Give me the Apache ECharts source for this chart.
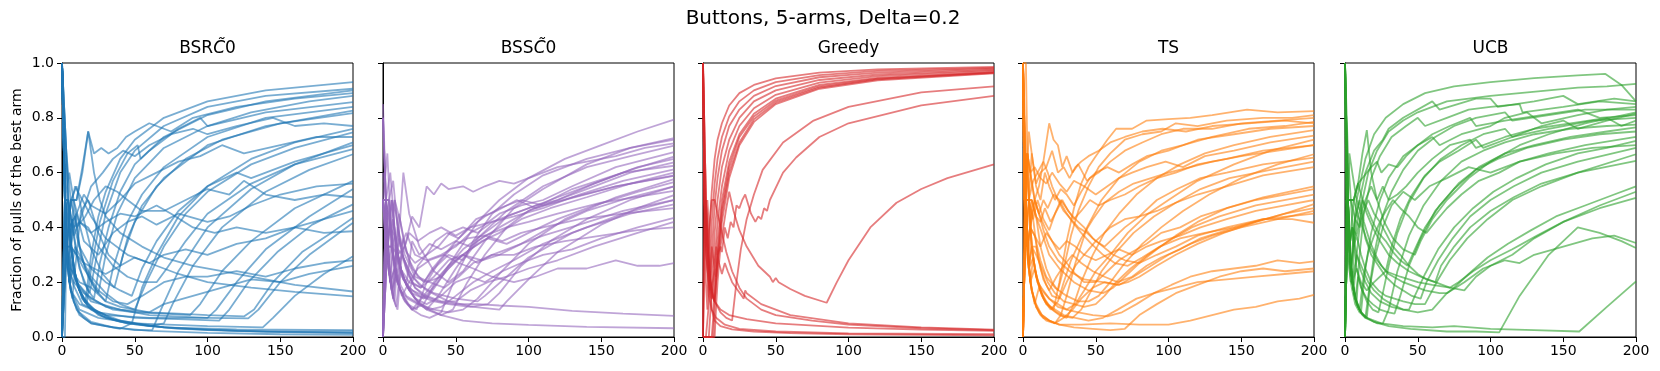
<!DOCTYPE html>
<html>
<head>
<meta charset="utf-8">
<script src="https://cdn.jsdelivr.net/npm/echarts@6/dist/echarts.min.js"></script>
<style>
	html, body { margin: 0; padding: 0; background: #fff; }
	#main { width: 1660px; height: 371px; }
</style>
</head>
<body>
<div id="main"></div>
<script>
// values, one [step, fraction] list per run
var xTicks = [0, 50, 100, 150, 200];
var yTicks = [0, 0.2, 0.4, 0.6, 0.8, 1.0];
var panelTitles = ['BSR{i|C\u0303}0', 'BSS{i|C\u0303}0', 'Greedy', 'TS', 'UCB'];
var panelColors = ['#1f77b4', '#9467bd', '#d62728', '#ff7f0e', '#2ca02c'];

var bsrLines = [
	[[0,1],[2,0.5],[3,0.33],[5,0.4],[8,0.25],[12,0.17],[16,0.125],[20,0.3],[25,0.44],[30,0.53],[40,0.65],[50,0.72],[70,0.8],[100,0.86],[140,0.9],[200,0.93]],
	[[0,0],[2,0.5],[4,0.25],[7,0.43],[10,0.3],[15,0.2],[19,0.16],[24,0.3],[30,0.45],[40,0.6],[50,0.68],[70,0.77],[100,0.84],[140,0.88],[200,0.906]],
	[[0,0],[3,0.33],[6,0.5],[10,0.5],[14,0.6],[18,0.75],[22,0.67],[27,0.69],[32,0.67],[38,0.69],[44,0.73],[50,0.75],[60,0.78],[75,0.75],[90,0.8],[120,0.84],[160,0.87],[200,0.89]],
	[[0,1],[2,0.5],[4,0.5],[8,0.37],[12,0.25],[18,0.17],[22,0.14],[26,0.27],[32,0.4],[40,0.53],[50,0.63],[70,0.73],[100,0.81],[140,0.86],[200,0.9]],
	[[0,1],[3,0.67],[6,0.33],[10,0.2],[14,0.14],[17,0.12],[20,0.25],[26,0.42],[35,0.57],[45,0.67],[52,0.7],[54,0.65],[60,0.68],[80,0.76],[95,0.8],[100,0.77],[130,0.82],[170,0.86],[200,0.88]],
	[[0,0],[2,0.5],[5,0.4],[9,0.44],[13,0.3],[18,0.22],[25,0.16],[30,0.3],[38,0.45],[50,0.58],[70,0.69],[100,0.77],[140,0.82],[200,0.857]],
	[[0,1],[3,0.33],[5,0.2],[8,0.5],[12,0.33],[16,0.25],[22,0.18],[30,0.13],[35,0.25],[45,0.42],[55,0.52],[70,0.62],[100,0.73],[140,0.8],[200,0.84]],
	[[0,1],[2,0.5],[4,0.25],[7,0.14],[10,0.3],[13,0.46],[18,0.5],[25,0.38],[32,0.3],[40,0.26],[45,0.36],[55,0.48],[70,0.58],[100,0.7],[140,0.77],[200,0.826]],
	[[0,0],[3,0.3],[6,0.5],[10,0.55],[14,0.45],[20,0.32],[28,0.23],[36,0.18],[42,0.3],[50,0.42],[65,0.55],[85,0.65],[110,0.72],[150,0.78],[200,0.817]],
	[[0,1],[4,0.5],[8,0.4],[12,0.42],[20,0.55],[28,0.6],[35,0.65],[42,0.68],[50,0.66],[60,0.7],[75,0.74],[90,0.76],[100,0.74],[120,0.77],[145,0.8],[160,0.77],[180,0.78],[200,0.77]],
	[[0,1],[3,0.33],[6,0.17],[10,0.1],[15,0.07],[20,0.05],[40,0.03],[48,0.05],[55,0.18],[65,0.3],[80,0.44],[100,0.55],[130,0.65],[160,0.71],[200,0.76]],
	[[0,1],[2,0.5],[5,0.2],[9,0.33],[14,0.28],[20,0.22],[30,0.16],[40,0.12],[50,0.1],[58,0.2],[70,0.33],[85,0.45],[100,0.53],[130,0.63],[160,0.69],[200,0.747]],
	[[0,0],[3,0.33],[6,0.33],[10,0.45],[15,0.52],[20,0.48],[30,0.45],[40,0.5],[50,0.56],[65,0.6],[80,0.64],[95,0.66],[110,0.7],[125,0.67],[150,0.7],[175,0.73],[200,0.73]],
	[[0,1],[3,0.33],[5,0.2],[8,0.13],[12,0.08],[20,0.05],[30,0.04],[50,0.025],[62,0.025],[68,0.1],[80,0.24],[100,0.4],[130,0.54],[160,0.63],[200,0.71]],
	[[0,1],[2,0.5],[4,0.25],[7,0.43],[12,0.33],[20,0.25],[30,0.2],[40,0.17],[48,0.15],[55,0.25],[65,0.35],[80,0.46],[100,0.55],[120,0.6],[130,0.58],[160,0.64],[200,0.7]],
	[[0,0],[2,0.5],[4,0.5],[8,0.37],[12,0.42],[18,0.4],[25,0.33],[35,0.26],[45,0.22],[55,0.2],[65,0.2],[72,0.25],[85,0.35],[100,0.45],[130,0.56],[160,0.63],[200,0.686]],
	[[0,1],[3,0.33],[5,0.4],[9,0.22],[14,0.14],[20,0.1],[30,0.07],[45,0.05],[60,0.04],[70,0.05],[76,0.12],[90,0.26],[110,0.4],[140,0.53],[170,0.61],[200,0.667]],
	[[0,1],[3,0.33],[6,0.25],[10,0.2],[20,0.14],[35,0.1],[50,0.09],[70,0.085],[88,0.08],[95,0.12],[110,0.24],[130,0.35],[160,0.47],[200,0.57]],
	[[0,1],[2,0.5],[5,0.4],[10,0.45],[15,0.35],[25,0.3],[35,0.38],[45,0.42],[55,0.44],[65,0.41],[80,0.45],[100,0.42],[115,0.44],[130,0.48],[150,0.52],[175,0.55],[200,0.56]],
	[[0,0],[2,0.5],[4,0.25],[8,0.2],[15,0.16],[30,0.11],[60,0.08],[100,0.07],[106,0.1],[120,0.2],[140,0.32],[170,0.44],[200,0.54]],
	[[0,1],[3,0.67],[6,0.5],[10,0.4],[16,0.44],[22,0.5],[30,0.55],[38,0.53],[45,0.5],[55,0.46],[70,0.46],[85,0.5],[100,0.54],[115,0.52],[125,0.57],[140,0.52],[160,0.5],[180,0.52],[200,0.51]],
	[[0,1],[3,0.33],[6,0.17],[12,0.12],[25,0.09],[50,0.07],[80,0.065],[108,0.06],[115,0.1],[128,0.2],[148,0.31],[172,0.41],[200,0.484]],
	[[0,0],[3,0.33],[6,0.33],[10,0.3],[15,0.27],[22,0.25],[30,0.23],[40,0.26],[50,0.29],[60,0.27],[70,0.3],[85,0.32],[100,0.3],[120,0.34],[140,0.36],[160,0.4],[180,0.43],[200,0.46]],
	[[0,1],[2,0.5],[5,0.3],[10,0.2],[20,0.13],[40,0.1],[60,0.09],[80,0.085],[100,0.08],[125,0.075],[132,0.1],[145,0.2],[165,0.31],[185,0.38],[200,0.435]],
	[[0,1],[3,0.33],[7,0.2],[14,0.12],[30,0.08],[60,0.07],[100,0.07],[128,0.068],[135,0.1],[150,0.2],[170,0.3],[200,0.417]],
	[[0,0],[2,0.5],[5,0.6],[8,0.5],[12,0.42],[20,0.38],[30,0.42],[40,0.45],[50,0.44],[65,0.48],[75,0.45],[90,0.4],[105,0.38],[120,0.4],[140,0.38],[160,0.4],[180,0.38],[200,0.386]],
	[[0,1],[3,0.33],[6,0.17],[12,0.1],[25,0.07],[50,0.05],[100,0.04],[138,0.035],[145,0.07],[160,0.15],[180,0.23],[200,0.295]],
	[[0,1],[2,0.5],[6,0.33],[10,0.3],[15,0.25],[25,0.17],[35,0.13],[45,0.12],[55,0.15],[70,0.2],[85,0.22],[100,0.22],[120,0.24],[140,0.22],[160,0.25],[180,0.27],[200,0.28]],
	[[0,0],[3,0.33],[6,0.25],[12,0.2],[20,0.18],[30,0.13],[40,0.11],[50,0.1],[60,0.09],[70,0.12],[90,0.15],[110,0.18],[130,0.21],[150,0.2],[170,0.23],[200,0.26]],
	[[0,1],[3,0.33],[6,0.5],[10,0.5],[14,0.62],[18,0.75],[22,0.6],[26,0.5],[30,0.44],[40,0.38],[55,0.33],[70,0.29],[90,0.26],[110,0.24],[130,0.22],[160,0.19],[200,0.166]],
	[[0,1],[2,0.5],[5,0.45],[9,0.55],[14,0.5],[20,0.44],[30,0.36],[45,0.3],[60,0.27],[80,0.23],[100,0.2],[130,0.18],[160,0.165],[200,0.148]],
	[[0,1],[2,0.5],[3,0.33],[5,0.2],[8,0.13],[12,0.09],[20,0.055],[35,0.035],[60,0.022],[100,0.015],[150,0.01],[200,0.008]],
	[[0,0],[2,0.5],[4,0.5],[6,0.33],[10,0.2],[15,0.14],[22,0.1],[35,0.065],[60,0.04],[100,0.025],[150,0.018],[200,0.014]],
	[[0,1],[3,0.67],[5,0.4],[8,0.25],[12,0.17],[18,0.12],[25,0.09],[40,0.06],[70,0.035],[120,0.022],[200,0.015]],
	[[0,0],[2,0],[3,0.33],[5,0.2],[8,0.25],[12,0.17],[18,0.11],[28,0.075],[45,0.05],[80,0.03],[140,0.02],[200,0.02]],
	[[0,1],[2,0.5],[4,0.5],[7,0.29],[11,0.18],[16,0.13],[25,0.08],[40,0.055],[70,0.035],[120,0.028],[200,0.025]]
];

var bssLines = [
	[[0,0.5],[2,0.33],[5,0.2],[8,0.5],[12,0.33],[16,0.25],[22,0.18],[30,0.14],[38,0.2],[50,0.3],[65,0.42],[80,0.5],[100,0.58],[125,0.65],[150,0.7],[175,0.75],[200,0.793]],
	[[0,0],[2,0.5],[4,0.25],[7,0.43],[10,0.3],[14,0.6],[18,0.45],[25,0.33],[35,0.24],[45,0.2],[55,0.24],[70,0.35],[90,0.47],[110,0.54],[140,0.63],[170,0.69],[200,0.726]],
	[[0,0.85],[3,0.33],[6,0.33],[10,0.3],[15,0.33],[20,0.44],[25,0.4],[30,0.55],[35,0.52],[40,0.56],[45,0.54],[55,0.55],[62,0.53],[70,0.55],[80,0.57],[90,0.56],[100,0.58],[120,0.62],[140,0.64],[160,0.66],[180,0.69],[200,0.707]],
	[[0,0.5],[3,0.33],[6,0.5],[9,0.33],[13,0.23],[18,0.17],[25,0.12],[30,0.1],[38,0.15],[50,0.25],[65,0.36],[85,0.46],[110,0.55],[140,0.62],[170,0.66],[200,0.698]],
	[[0,0],[2,0.5],[5,0.4],[8,0.25],[11,0.45],[15,0.33],[20,0.25],[28,0.2],[35,0.25],[45,0.3],[55,0.28],[65,0.35],[80,0.4],[100,0.46],[120,0.5],[145,0.56],[170,0.61],[200,0.658]],
	[[0,0.5],[2,0.33],[4,0.5],[7,0.29],[10,0.2],[14,0.14],[20,0.1],[28,0.15],[35,0.2],[45,0.26],[55,0.32],[70,0.38],[85,0.44],[100,0.47],[120,0.51],[150,0.57],[175,0.62],[200,0.65]],
	[[0,0],[3,0.33],[6,0.17],[9,0.33],[13,0.3],[18,0.38],[24,0.35],[32,0.38],[40,0.4],[50,0.37],[60,0.4],[75,0.42],[90,0.45],[105,0.48],[120,0.5],[140,0.54],[170,0.6],[200,0.637]],
	[[0,0.6],[2,0.5],[5,0.2],[8,0.38],[12,0.25],[17,0.18],[24,0.13],[32,0.1],[40,0.08],[48,0.1],[58,0.2],[70,0.3],[85,0.4],[100,0.46],[130,0.54],[165,0.6],[200,0.625]],
	[[0,0.5],[2,0.5],[5,0.4],[8,0.5],[12,0.42],[16,0.31],[22,0.27],[30,0.3],[38,0.33],[46,0.38],[55,0.4],[65,0.38],[75,0.42],[90,0.44],[110,0.47],[135,0.52],[165,0.57],[200,0.612]],
	[[0,0],[3,0.33],[5,0.2],[8,0.13],[10,0.3],[14,0.21],[20,0.16],[28,0.14],[36,0.19],[45,0.25],[55,0.3],[68,0.35],[80,0.38],[95,0.43],[115,0.47],[140,0.51],[170,0.56],[200,0.6]],
	[[0,0.8],[2,0.5],[4,0.25],[7,0.14],[10,0.4],[14,0.29],[20,0.2],[26,0.18],[34,0.25],[42,0.3],[52,0.36],[64,0.43],[78,0.46],[92,0.5],[105,0.47],[125,0.5],[160,0.55],[200,0.588]],
	[[0,0.5],[3,0.33],[6,0.17],[9,0.25],[12,0.19],[16,0.15],[25,0.12],[35,0.1],[45,0.09],[55,0.1],[65,0.14],[80,0.23],[100,0.34],[125,0.43],[160,0.51],[200,0.576]],
	[[0,0],[2,0.5],[4,0.5],[7,0.57],[10,0.4],[15,0.3],[22,0.22],[30,0.2],[40,0.22],[50,0.28],[60,0.32],[72,0.36],[85,0.34],[100,0.38],[120,0.43],[145,0.48],[175,0.53],[200,0.565]],
	[[0,0.5],[2,0.33],[5,0.4],[9,0.3],[13,0.22],[18,0.18],[25,0.15],[35,0.13],[45,0.12],[60,0.11],[72,0.12],[80,0.16],[95,0.26],[115,0.35],[140,0.43],[170,0.5],[200,0.55]],
	[[0,0],[3,0.33],[6,0.5],[9,0.33],[12,0.25],[16,0.19],[20,0.35],[25,0.3],[32,0.34],[40,0.32],[50,0.35],[60,0.33],[70,0.37],[85,0.4],[100,0.42],[120,0.45],[150,0.49],[200,0.533]],
	[[0,0.5],[2,0.5],[5,0.2],[8,0.25],[11,0.36],[14,0.29],[20,0.22],[30,0.17],[45,0.13],[62,0.11],[80,0.1],[85,0.13],[100,0.21],[120,0.31],[150,0.41],[175,0.47],[200,0.518]],
	[[0,0.8],[3,0.33],[6,0.33],[10,0.2],[14,0.36],[18,0.28],[24,0.22],[32,0.2],[42,0.18],[52,0.22],[62,0.27],[75,0.3],[90,0.33],[110,0.37],[135,0.41],[165,0.46],[200,0.5]],
	[[0,0],[2,0.5],[4,0.25],[6,0.17],[9,0.22],[12,0.17],[17,0.14],[24,0.12],[32,0.1],[40,0.11],[50,0.15],[62,0.2],[75,0.24],[90,0.28],[110,0.34],[140,0.4],[170,0.45],[200,0.484]],
	[[0,0.5],[2,0.33],[5,0.2],[8,0.25],[12,0.17],[17,0.12],[23,0.1],[30,0.2],[38,0.27],[48,0.33],[58,0.36],[70,0.37],[82,0.35],[95,0.38],[110,0.4],[135,0.43],[165,0.45],[200,0.47]],
	[[0,0],[3,0.33],[7,0.43],[11,0.27],[16,0.19],[22,0.14],[30,0.12],[40,0.15],[50,0.2],[60,0.22],[70,0.2],[82,0.24],[95,0.27],[110,0.3],[130,0.32],[150,0.36],[175,0.4],[200,0.435]],
	[[0,0.5],[2,0.5],[4,0.25],[7,0.14],[10,0.1],[13,0.3],[17,0.23],[22,0.18],[30,0.15],[40,0.13],[50,0.13],[60,0.17],[72,0.2],[85,0.22],[100,0.25],[120,0.28],[145,0.33],[175,0.38],[200,0.42]],
	[[0,0],[2,0.33],[5,0.4],[8,0.37],[12,0.25],[18,0.2],[26,0.18],[35,0.22],[45,0.28],[55,0.3],[65,0.27],[75,0.3],[90,0.3],[105,0.33],[125,0.35],[150,0.37],[175,0.39],[200,0.4]],
	[[0,0.5],[3,0.33],[6,0.33],[9,0.22],[13,0.15],[18,0.2],[24,0.25],[32,0.28],[42,0.3],[52,0.27],[62,0.25],[75,0.22],[90,0.2],[105,0.22],[120,0.25],[140,0.25],[160,0.28],[175,0.26],[190,0.26],[200,0.27]],
	[[0,0],[2,0.5],[4,0.25],[7,0.14],[10,0.3],[14,0.21],[20,0.17],[28,0.15],[38,0.13],[50,0.12],[65,0.12],[80,0.115],[100,0.11],[130,0.095],[165,0.085],[200,0.077]],
	[[0,0.5],[2,0.5],[4,0.25],[6,0.17],[9,0.11],[12,0.25],[16,0.19],[22,0.14],[30,0.1],[40,0.08],[55,0.06],[75,0.05],[100,0.044],[140,0.037],[200,0.032]],
	[[0,0.8],[2,0.5],[4,0.5],[7,0.29],[10,0.2],[14,0.15],[20,0.1],[26,0.08],[32,0.07],[40,0.09],[50,0.22],[62,0.35],[75,0.45],[90,0.52],[110,0.59],[140,0.65],[170,0.69],[200,0.72]],
	[[0,0],[2,0.5],[5,0.6],[9,0.33],[13,0.23],[18,0.17],[24,0.26],[30,0.3],[36,0.35],[44,0.38],[52,0.36],[60,0.4],[70,0.44],[80,0.47],[95,0.5],[110,0.48],[130,0.51],[160,0.55],[200,0.59]],
	[[0,0.5],[3,0.67],[6,0.33],[10,0.2],[15,0.13],[20,0.1],[28,0.12],[36,0.2],[45,0.26],[55,0.3],[68,0.28],[80,0.3],[95,0.34],[115,0.4],[140,0.46],[170,0.51],[200,0.55]],
	[[0,0],[2,0.5],[4,0.5],[6,0.33],[9,0.22],[13,0.3],[18,0.24],[25,0.19],[35,0.16],[50,0.14],[65,0.13],[70,0.15],[85,0.22],[100,0.29],[130,0.38],[165,0.45],[200,0.5]],
	[[0,0.5],[3,0.33],[6,0.5],[9,0.45],[12,0.33],[16,0.38],[22,0.3],[30,0.28],[40,0.3],[50,0.33],[60,0.38],[70,0.41],[80,0.45],[95,0.48],[110,0.5],[130,0.55],[160,0.62],[200,0.675]]
];

var greedyLines = [
	[[0,1],[1,0.5],[2,0.2],[3,0.1],[4,0.3],[5,0.44],[6,0.53],[8,0.65],[10,0.72],[13,0.78],[18,0.845],[25,0.89],[35,0.92],[50,0.944],[80,0.965],[120,0.977],[200,0.986]],
	[[0,0],[1,0],[2,0],[3,0],[4,0.12],[5,0.3],[6,0.42],[8,0.56],[10,0.65],[13,0.73],[18,0.805],[25,0.86],[35,0.9],[50,0.93],[80,0.956],[120,0.971],[200,0.982]],
	[[0,1],[1,0.5],[2,0.33],[3,0.25],[4,0.2],[5,0.17],[6,0.3],[8,0.48],[10,0.58],[13,0.68],[18,0.77],[25,0.83],[35,0.88],[50,0.916],[80,0.948],[120,0.965],[200,0.979]],
	[[0,0],[2,0],[4,0],[5,0],[6,0.17],[8,0.38],[10,0.5],[13,0.62],[18,0.72],[25,0.8],[35,0.86],[50,0.9],[80,0.938],[120,0.958],[200,0.975]],
	[[0,1],[1,0.5],[2,0.33],[3,0.25],[5,0.15],[6,0.14],[7,0.17],[8,0.28],[10,0.42],[13,0.55],[18,0.68],[25,0.77],[35,0.835],[50,0.884],[80,0.928],[120,0.952],[200,0.971]],
	[[0,0],[3,0],[6,0],[7,0.07],[8,0.19],[10,0.35],[13,0.5],[18,0.64],[25,0.74],[35,0.815],[50,0.87],[80,0.92],[120,0.946],[200,0.967]],
	[[0,1],[1,0.5],[3,0.33],[5,0.2],[7,0.14],[8,0.13],[10,0.28],[13,0.45],[18,0.6],[25,0.71],[35,0.795],[50,0.856],[80,0.91],[120,0.94],[200,0.964]],
	[[0,0],[2,0],[5,0],[7,0],[8,0.12],[10,0.3],[13,0.47],[18,0.62],[25,0.73],[35,0.805],[50,0.863],[80,0.915],[120,0.943],[200,0.966]],
	[[0,1],[2,0.5],[4,0.25],[6,0.17],[8,0.13],[9,0.2],[10,0.26],[13,0.42],[18,0.58],[25,0.7],[35,0.785],[50,0.85],[80,0.906],[120,0.937],[200,0.962]],
	[[0,0],[1,0.5],[3,0.33],[5,0.2],[8,0.13],[12,0.09],[16,0.07],[20,0.06],[23,0.2],[26,0.32],[30,0.43],[35,0.52],[41,0.61],[55,0.71],[76,0.79],[100,0.84],[150,0.893],[200,0.915]],
	[[0,1],[2,0.5],[4,0.25],[5,0.2],[6,0.33],[8,0.25],[9,0.33],[10,0.3],[12,0.33],[13,0.31],[15,0.4],[17,0.36],[19,0.42],[21,0.4],[23,0.48],[25,0.47],[27,0.5],[29,0.52],[33,0.45],[36,0.42],[38,0.44],[40,0.43],[42,0.47],[44,0.46],[46,0.5],[55,0.6],[64,0.655],[80,0.73],[100,0.78],[150,0.845],[200,0.88]],
	[[0,0],[8,0],[9,0.11],[10,0.2],[12,0.33],[14,0.4],[16,0.47],[18,0.53],[21,0.46],[25,0.39],[30,0.33],[38,0.26],[46,0.22],[48,0.2],[50,0.215],[52,0.2],[60,0.175],[70,0.15],[85,0.125],[92,0.2],[100,0.28],[115,0.4],[133,0.49],[150,0.54],[168,0.58],[200,0.63]],
	[[0,1],[2,0.5],[4,0.25],[6,0.17],[8,0.25],[9,0.22],[10,0.3],[11,0.27],[13,0.23],[15,0.27],[17,0.24],[20,0.2],[24,0.17],[28,0.14],[29,0.17],[30,0.16],[40,0.12],[60,0.08],[100,0.05],[150,0.035],[200,0.027]],
	[[0,0],[1,0.5],[2,0.33],[3,0.5],[4,0.4],[5,0.17],[8,0.13],[12,0.1],[18,0.08],[30,0.065],[50,0.05],[100,0.034],[150,0.027],[200,0.022]],
	[[0,1],[1,0.5],[3,0.33],[6,0.5],[8,0.5],[10,0.45],[13,0.38],[16,0.31],[20,0.24],[25,0.18],[30,0.14],[40,0.1],[50,0.08],[75,0.06],[100,0.045],[150,0.032],[200,0.025]],
	[[0,0],[1,0],[2,0.5],[3,0.33],[4,0.25],[5,0.2],[6,0.1],[8,0.06],[12,0.04],[20,0.028],[35,0.02],[60,0.014],[100,0.01],[200,0.006]],
	[[0,1],[1,0.5],[2,0.33],[3,0.25],[4,0.15],[6,0.1],[9,0.07],[15,0.045],[25,0.03],[50,0.02],[100,0.013],[200,0.01]]
];

var tsLines = [
	[[0,1],[1,0.5],[2,0.67],[4,0.5],[6,0.33],[9,0.22],[13,0.15],[17,0.12],[21,0.1],[25,0.2],[30,0.35],[35,0.47],[40,0.56],[45,0.62],[50,0.66],[58,0.72],[64,0.76],[75,0.76],[85,0.79],[100,0.795],[115,0.8],[130,0.81],[154,0.83],[175,0.82],[200,0.824]],
	[[0,1],[2,0.5],[4,0.25],[6,0.5],[9,0.44],[12,0.33],[16,0.25],[20,0.2],[24,0.17],[28,0.25],[33,0.37],[38,0.46],[45,0.55],[52,0.62],[60,0.67],[70,0.72],[82,0.74],[95,0.75],[105,0.78],[120,0.77],[140,0.79],[165,0.8],[185,0.8],[200,0.81]],
	[[0,0],[1,0],[2,0.5],[4,0.75],[6,0.67],[9,0.55],[12,0.5],[15,0.6],[18,0.55],[22,0.5],[26,0.54],[30,0.52],[35,0.48],[40,0.53],[46,0.58],[52,0.6],[60,0.64],[70,0.68],[82,0.71],[95,0.74],[110,0.76],[130,0.76],[150,0.78],[175,0.79],[200,0.8]],
	[[0,1],[1,1],[2,0.5],[3,0.33],[5,0.2],[8,0.13],[11,0.09],[14,0.07],[18,0.06],[22,0.05],[26,0.08],[30,0.15],[36,0.27],[44,0.4],[54,0.5],[66,0.58],[80,0.64],[95,0.68],[110,0.7],[130,0.73],[155,0.76],[180,0.77],[200,0.785]],
	[[0,0],[2,0.5],[4,0.5],[7,0.57],[10,0.6],[14,0.64],[18,0.78],[21,0.72],[24,0.7],[27,0.62],[30,0.66],[34,0.6],[38,0.63],[44,0.57],[50,0.6],[58,0.62],[66,0.6],[75,0.63],[85,0.66],[100,0.68],[120,0.72],[145,0.74],[170,0.76],[200,0.77]],
	[[0,1],[1,0.5],[3,0.67],[5,0.4],[8,0.25],[12,0.17],[16,0.13],[20,0.1],[25,0.08],[30,0.07],[35,0.12],[40,0.2],[48,0.3],[56,0.38],[66,0.45],[78,0.52],[92,0.58],[108,0.63],[125,0.67],[145,0.7],[170,0.73],[200,0.755]],
	[[0,1],[2,1],[3,0.67],[5,0.6],[8,0.62],[12,0.58],[16,0.56],[20,0.6],[25,0.56],[30,0.53],[35,0.57],[42,0.55],[50,0.52],[58,0.55],[66,0.58],[75,0.6],[85,0.62],[98,0.64],[110,0.62],[125,0.66],[145,0.68],[170,0.71],[200,0.735]],
	[[0,0],[1,0],[2,0.5],[4,0.25],[6,0.33],[9,0.22],[13,0.17],[18,0.14],[24,0.12],[30,0.1],[36,0.12],[42,0.17],[50,0.24],[60,0.3],[72,0.38],[86,0.45],[100,0.5],[120,0.57],[145,0.63],[170,0.68],[200,0.72]],
	[[0,1],[1,0.5],[2,0.33],[4,0.5],[7,0.43],[10,0.5],[14,0.43],[18,0.39],[22,0.45],[26,0.5],[30,0.47],[35,0.43],[40,0.46],[46,0.5],[52,0.48],[60,0.5],[70,0.52],[80,0.55],[92,0.58],[105,0.6],[120,0.63],[140,0.65],[165,0.68],[200,0.7]],
	[[0,0],[2,0.5],[3,0.33],[5,0.4],[8,0.37],[12,0.28],[16,0.22],[22,0.18],[30,0.15],[38,0.13],[45,0.13],[52,0.15],[60,0.2],[70,0.27],[82,0.34],[95,0.4],[110,0.46],[128,0.52],[150,0.58],[175,0.63],[200,0.667]],
	[[0,1],[1,0.5],[3,0.33],[5,0.4],[8,0.5],[11,0.55],[14,0.64],[17,0.6],[20,0.55],[24,0.5],[28,0.46],[33,0.43],[38,0.4],[44,0.38],[50,0.35],[56,0.33],[62,0.36],[70,0.4],[80,0.44],[92,0.5],[106,0.54],[122,0.58],[140,0.6],[165,0.63],[200,0.655]],
	[[0,0],[1,0.5],[3,0.33],[5,0.2],[7,0.29],[10,0.2],[14,0.14],[18,0.11],[23,0.09],[28,0.075],[34,0.07],[40,0.1],[46,0.16],[54,0.24],[64,0.31],[76,0.38],[90,0.44],[105,0.49],[122,0.54],[142,0.58],[170,0.61],[200,0.64]],
	[[0,1],[2,0.5],[4,0.5],[6,0.33],[9,0.33],[12,0.25],[16,0.19],[20,0.15],[25,0.14],[30,0.2],[36,0.26],[42,0.3],[50,0.35],[60,0.4],[70,0.43],[80,0.44],[92,0.46],[105,0.49],[120,0.52],[140,0.55],[165,0.59],[200,0.62]],
	[[0,0],[1,0],[2,0.5],[4,0.5],[6,0.5],[9,0.44],[13,0.38],[18,0.3],[25,0.25],[35,0.2],[45,0.17],[55,0.16],[62,0.18],[70,0.22],[80,0.27],[92,0.32],[105,0.37],[120,0.42],[140,0.47],[165,0.51],[200,0.55]],
	[[0,1],[1,0.5],[3,0.67],[5,0.6],[8,0.5],[11,0.45],[15,0.4],[20,0.35],[25,0.3],[30,0.27],[36,0.23],[42,0.2],[50,0.2],[58,0.24],[66,0.28],[75,0.31],[85,0.34],[95,0.38],[108,0.4],[122,0.44],[140,0.47],[160,0.5],[180,0.52],[200,0.54]],
	[[0,1],[2,0.5],[4,0.25],[6,0.33],[9,0.3],[13,0.25],[17,0.2],[22,0.16],[28,0.13],[35,0.12],[42,0.11],[50,0.12],[56,0.15],[64,0.2],[74,0.25],[86,0.3],[100,0.35],[116,0.4],[135,0.44],[160,0.48],[200,0.52]],
	[[0,0],[2,0.5],[3,0.67],[5,0.4],[8,0.37],[12,0.33],[16,0.38],[20,0.35],[25,0.32],[30,0.35],[36,0.33],[42,0.3],[50,0.28],[58,0.3],[66,0.32],[75,0.3],[85,0.33],[95,0.35],[108,0.37],[122,0.4],[140,0.43],[160,0.46],[180,0.48],[200,0.5]],
	[[0,1],[1,0.5],[3,0.67],[5,0.6],[8,0.5],[11,0.45],[14,0.39],[18,0.33],[24,0.28],[32,0.24],[42,0.21],[55,0.2],[65,0.19],[72,0.2],[80,0.22],[92,0.26],[105,0.3],[120,0.34],[138,0.38],[160,0.42],[180,0.45],[200,0.485]],
	[[0,0],[1,0.5],[2,0.33],[4,0.5],[7,0.43],[10,0.3],[14,0.21],[18,0.17],[23,0.22],[28,0.26],[34,0.3],[40,0.27],[48,0.24],[56,0.22],[65,0.2],[75,0.22],[85,0.26],[95,0.29],[108,0.32],[122,0.36],[140,0.39],[160,0.42],[180,0.45],[200,0.47]],
	[[0,1],[2,0.5],[3,0.33],[6,0.17],[9,0.11],[12,0.08],[16,0.06],[22,0.05],[28,0.07],[34,0.1],[40,0.14],[48,0.18],[56,0.2],[66,0.19],[76,0.22],[88,0.26],[100,0.3],[115,0.34],[130,0.37],[150,0.4],[175,0.43],[200,0.46]],
	[[0,0],[2,0.5],[4,0.5],[6,0.5],[9,0.44],[12,0.42],[15,0.47],[19,0.42],[23,0.46],[27,0.5],[31,0.46],[36,0.43],[42,0.4],[48,0.36],[55,0.33],[62,0.3],[70,0.28],[80,0.27],[92,0.3],[105,0.33],[120,0.37],[140,0.4],[165,0.43],[200,0.45]],
	[[0,1],[1,0.5],[3,0.33],[5,0.4],[8,0.5],[11,0.45],[14,0.5],[17,0.47],[21,0.52],[25,0.5],[29,0.46],[34,0.42],[40,0.38],[47,0.34],[55,0.3],[63,0.27],[72,0.26],[82,0.29],[94,0.33],[108,0.36],[125,0.38],[145,0.4],[165,0.43],[185,0.43],[200,0.417]],
	[[0,0],[1,0],[2,0.5],[4,0.25],[7,0.29],[10,0.2],[14,0.17],[18,0.14],[24,0.11],[30,0.1],[38,0.09],[48,0.08],[58,0.075],[68,0.09],[78,0.12],[90,0.16],[102,0.19],[115,0.22],[130,0.24],[145,0.25],[160,0.26],[175,0.28],[190,0.27],[200,0.276]],
	[[0,1],[2,0.5],[4,0.25],[6,0.17],[9,0.11],[13,0.08],[18,0.06],[25,0.045],[35,0.035],[48,0.03],[60,0.025],[70,0.03],[80,0.08],[92,0.12],[105,0.16],[120,0.19],[135,0.22],[150,0.24],[165,0.25],[180,0.24],[200,0.25]],
	[[0,0],[2,0.5],[3,0.33],[5,0.2],[8,0.25],[12,0.17],[16,0.12],[22,0.1],[28,0.08],[36,0.07],[45,0.06],[55,0.07],[65,0.1],[78,0.14],[90,0.16],[105,0.18],[120,0.2],[140,0.21],[160,0.22],[180,0.23],[200,0.24]],
	[[0,1],[1,0.5],[2,0.33],[4,0.25],[6,0.17],[9,0.12],[13,0.08],[18,0.06],[25,0.045],[40,0.045],[60,0.05],[80,0.045],[100,0.045],[115,0.06],[130,0.08],[145,0.1],[160,0.11],[175,0.13],[190,0.14],[200,0.154]],
	[[0,1],[1,1],[2,0.67],[4,0.5],[6,0.67],[9,0.56],[12,0.6],[16,0.62],[20,0.68],[24,0.6],[28,0.62],[32,0.58],[36,0.62],[40,0.64],[45,0.66],[52,0.68],[60,0.71],[70,0.73],[82,0.75],[96,0.76],[112,0.75],[130,0.77],[155,0.78],[180,0.79],[200,0.78]],
	[[0,0],[2,0.5],[3,0.33],[5,0.2],[8,0.12],[11,0.18],[15,0.13],[19,0.1],[24,0.13],[28,0.2],[33,0.28],[40,0.36],[48,0.43],[56,0.49],[66,0.53],[76,0.56],[88,0.58],[100,0.6],[115,0.62],[130,0.64],[150,0.66],[175,0.68],[200,0.7]]
];

var ucbLines = [
	[[0,1],[1,0.5],[2,0.33],[3,0.25],[4,0.2],[6,0.4],[8,0.5],[10,0.55],[14,0.65],[20,0.74],[28,0.8],[40,0.85],[55,0.89],[75,0.915],[100,0.93],[130,0.945],[160,0.955],[179,0.96],[190,0.92],[200,0.86]],
	[[0,0],[2,0.5],[4,0.25],[6,0.17],[8,0.3],[12,0.5],[16,0.6],[22,0.68],[30,0.75],[40,0.79],[50,0.82],[60,0.84],[70,0.86],[85,0.87],[100,0.88],[120,0.89],[140,0.9],[160,0.91],[180,0.915],[200,0.924]],
	[[0,1],[1,0.5],[3,0.33],[5,0.2],[7,0.43],[10,0.5],[14,0.6],[20,0.68],[26,0.72],[30,0.76],[35,0.78],[40,0.8],[60,0.86],[65,0.83],[90,0.87],[100,0.87],[105,0.84],[130,0.86],[150,0.88],[160,0.85],[185,0.87],[200,0.86]],
	[[0,0],[2,0.5],[3,0.33],[5,0.2],[8,0.13],[10,0.3],[13,0.45],[18,0.58],[24,0.66],[32,0.73],[42,0.77],[50,0.8],[55,0.77],[70,0.8],[85,0.83],[100,0.84],[120,0.85],[122,0.82],[150,0.84],[175,0.86],[200,0.85]],
	[[0,1],[2,0.5],[4,0.25],[6,0.17],[8,0.12],[11,0.09],[14,0.25],[18,0.38],[24,0.5],[30,0.58],[40,0.66],[50,0.7],[60,0.73],[65,0.7],[80,0.74],[100,0.77],[110,0.8],[125,0.82],[135,0.78],[160,0.81],[180,0.83],[200,0.84]],
	[[0,0],[1,0.5],[3,0.33],[5,0.2],[7,0.14],[9,0.11],[12,0.08],[14,0.07],[16,0.15],[20,0.3],[25,0.43],[32,0.53],[40,0.61],[50,0.68],[62,0.73],[75,0.77],[90,0.8],[110,0.82],[115,0.79],[140,0.81],[165,0.83],[200,0.83]],
	[[0,1],[2,0.5],[4,0.5],[6,0.5],[9,0.56],[12,0.67],[15,0.755],[18,0.6],[22,0.5],[27,0.42],[33,0.36],[40,0.32],[48,0.3],[52,0.35],[60,0.43],[70,0.5],[85,0.58],[100,0.64],[120,0.7],[140,0.74],[165,0.78],[200,0.82]],
	[[0,0],[2,0.5],[4,0.25],[7,0.43],[10,0.5],[13,0.42],[17,0.35],[21,0.3],[25,0.26],[28,0.24],[32,0.33],[38,0.43],[45,0.51],[55,0.59],[65,0.64],[78,0.68],[90,0.72],[95,0.69],[115,0.73],[135,0.77],[150,0.79],[160,0.76],[180,0.79],[200,0.815]],
	[[0,1],[1,0.5],[3,0.33],[5,0.4],[8,0.25],[11,0.18],[15,0.13],[19,0.1],[23,0.09],[26,0.16],[30,0.26],[36,0.38],[44,0.49],[54,0.58],[66,0.65],[80,0.7],[95,0.74],[110,0.76],[115,0.73],[140,0.76],[170,0.79],[200,0.8]],
	[[0,0],[2,0.5],[3,0.67],[5,0.6],[8,0.5],[11,0.45],[14,0.5],[18,0.55],[22,0.5],[26,0.55],[30,0.5],[36,0.52],[42,0.55],[50,0.6],[60,0.65],[72,0.7],[86,0.72],[90,0.69],[110,0.73],[130,0.76],[155,0.78],[180,0.8],[190,0.77],[200,0.79]],
	[[0,1],[2,0.5],[4,0.25],[6,0.17],[8,0.13],[10,0.1],[14,0.07],[18,0.06],[22,0.05],[26,0.05],[30,0.1],[36,0.24],[44,0.37],[54,0.48],[66,0.57],[80,0.64],[95,0.68],[110,0.71],[130,0.74],[155,0.76],[180,0.77],[200,0.775]],
	[[0,0],[1,0.5],[3,0.33],[6,0.5],[9,0.56],[12,0.5],[15,0.47],[19,0.42],[23,0.38],[28,0.35],[33,0.31],[38,0.28],[43,0.26],[48,0.32],[55,0.4],[65,0.48],[78,0.56],[92,0.62],[110,0.67],[130,0.7],[155,0.73],[180,0.75],[200,0.765]],
	[[0,1],[2,0.5],[3,0.33],[5,0.2],[7,0.14],[9,0.22],[12,0.17],[15,0.14],[19,0.12],[24,0.1],[30,0.09],[34,0.085],[38,0.15],[44,0.26],[52,0.36],[62,0.46],[75,0.54],[90,0.61],[105,0.65],[125,0.69],[150,0.72],[175,0.74],[200,0.75]],
	[[0,0],[2,0.5],[4,0.5],[7,0.43],[10,0.4],[13,0.46],[16,0.5],[20,0.45],[24,0.42],[28,0.46],[33,0.5],[38,0.47],[44,0.44],[50,0.4],[56,0.38],[62,0.42],[70,0.47],[80,0.52],[92,0.57],[106,0.6],[120,0.64],[140,0.67],[165,0.7],[200,0.73]],
	[[0,1],[1,0.5],[3,0.33],[5,0.4],[8,0.3],[11,0.24],[14,0.2],[18,0.16],[24,0.13],[32,0.11],[40,0.1],[44,0.1],[48,0.15],[55,0.23],[64,0.32],[75,0.4],[88,0.47],[102,0.53],[118,0.58],[138,0.63],[160,0.67],[180,0.69],[200,0.716]],
	[[0,0],[2,0.5],[3,0.33],[5,0.4],[8,0.37],[11,0.45],[14,0.36],[18,0.3],[23,0.26],[28,0.22],[34,0.19],[40,0.17],[46,0.15],[52,0.14],[56,0.2],[64,0.28],[74,0.36],[86,0.44],[100,0.5],[116,0.55],[135,0.6],[160,0.64],[200,0.69]],
	[[0,1],[2,0.5],[4,0.25],[6,0.33],[8,0.37],[11,0.3],[14,0.25],[18,0.2],[23,0.17],[28,0.15],[34,0.14],[40,0.13],[48,0.12],[55,0.12],[58,0.15],[64,0.21],[72,0.28],[84,0.36],[98,0.43],[115,0.5],[135,0.55],[160,0.6],[200,0.667]],
	[[0,0],[1,0.5],[3,0.33],[5,0.2],[7,0.14],[10,0.1],[13,0.23],[16,0.31],[20,0.37],[24,0.42],[28,0.38],[33,0.33],[38,0.3],[44,0.26],[50,0.23],[56,0.21],[62,0.2],[66,0.26],[75,0.33],[86,0.4],[100,0.46],[116,0.51],[135,0.56],[160,0.6],[200,0.643]],
	[[0,1],[2,0.5],[4,0.5],[6,0.5],[9,0.44],[12,0.4],[16,0.34],[22,0.28],[30,0.23],[40,0.2],[55,0.17],[65,0.16],[70,0.16],[75,0.18],[85,0.23],[98,0.29],[112,0.34],[128,0.39],[145,0.44],[165,0.48],[185,0.52],[200,0.55]],
	[[0,0],[2,0.5],[4,0.5],[6,0.33],[9,0.44],[12,0.5],[15,0.45],[19,0.4],[24,0.35],[30,0.3],[36,0.27],[44,0.24],[52,0.22],[62,0.2],[72,0.18],[82,0.17],[90,0.22],[100,0.26],[115,0.3],[130,0.36],[150,0.42],[175,0.48],[200,0.53]],
	[[0,1],[1,0.5],[3,0.33],[5,0.2],[8,0.25],[11,0.2],[15,0.17],[20,0.2],[28,0.24],[38,0.22],[50,0.2],[60,0.19],[72,0.18],[78,0.2],[88,0.24],[100,0.28],[115,0.32],[132,0.37],[150,0.42],[175,0.47],[200,0.508]],
	[[0,0],[2,0.5],[4,0.25],[6,0.17],[8,0.13],[11,0.09],[15,0.07],[20,0.055],[30,0.04],[45,0.03],[70,0.02],[90,0.02],[106,0.017],[120,0.15],[140,0.3],[150,0.35],[160,0.4],[175,0.38],[190,0.35],[200,0.325]],
	[[0,1],[2,0.5],[3,0.33],[5,0.2],[8,0.3],[12,0.25],[16,0.2],[20,0.17],[26,0.14],[32,0.12],[40,0.1],[50,0.09],[60,0.1],[70,0.16],[82,0.2],[95,0.25],[110,0.28],[120,0.27],[130,0.3],[150,0.33],[170,0.36],[185,0.37],[200,0.343]],
	[[0,0],[1,0.5],[2,0.33],[3,0.25],[4,0.2],[5,0.17],[7,0.12],[10,0.09],[15,0.07],[25,0.05],[40,0.04],[60,0.035],[75,0.04],[100,0.03],[130,0.025],[161,0.02],[180,0.11],[200,0.203]],
	[[0,1],[1,1],[2,0.67],[4,0.5],[6,0.5],[9,0.56],[12,0.58],[15,0.6],[18,0.62],[22,0.64],[25,0.6],[30,0.63],[36,0.62],[42,0.66],[50,0.7],[60,0.74],[72,0.77],[86,0.8],[90,0.77],[110,0.79],[135,0.81],[160,0.83],[175,0.8],[200,0.81]],
	[[0,0],[2,0.5],[3,0.33],[5,0.2],[7,0.14],[9,0.11],[11,0.09],[13,0.08],[15,0.07],[17,0.18],[21,0.3],[26,0.4],[32,0.48],[40,0.53],[48,0.5],[58,0.55],[70,0.58],[85,0.62],[100,0.6],[120,0.64],[145,0.67],[170,0.69],[200,0.7]]
];

var panelLines = [bsrLines, bssLines, greedyLines, tsLines, ucbLines];
var panelLeft = [62, 383, 703, 1023, 1345];
var panelTop = 63;
var panelWidth = 291;
var panelHeight = 274;

var dom = document.getElementById('main');
var myChart = echarts.init(dom, null, {renderer: 'canvas'});
var fontName = "'DejaVu Sans', sans-serif";

var grids = [], xAxes = [], yAxes = [], series = [], graphics = [];

panelLines.forEach(function (lines, i) {
	grids.push({
		left: panelLeft[i],
		top: panelTop,
		width: panelWidth,
		height: panelHeight,
		show: true,
		borderColor: '#000',
		borderWidth: 1,
		backgroundColor: 'transparent'
	});
	xAxes.push({
		type: 'value',
		gridIndex: i,
		min: xTicks[0],
		max: xTicks[xTicks.length - 1],
		interval: 50,
		axisLine: {show: true, lineStyle: {color: '#000', width: 1}},
		axisTick: {show: true, length: 5, lineStyle: {color: '#000'}},
		axisLabel: {show: true, margin: 7, color: '#000', fontSize: 14, fontFamily: fontName},
		splitLine: {show: false}
	});
	yAxes.push({
		type: 'value',
		gridIndex: i,
		min: yTicks[0],
		max: yTicks[yTicks.length - 1],
		interval: 0.2,
		name: i == 0 ? 'Fraction of pulls of the best arm' : '',
		nameLocation: 'middle',
		nameGap: 38,
		nameRotate: 90,
		nameTextStyle: {color: '#000', fontSize: 14, fontFamily: fontName},
		axisLine: {show: true, lineStyle: {color: '#000', width: 1}},
		axisTick: {show: true, length: 5, lineStyle: {color: '#000'}},
		axisLabel: {
			show: i == 0,
			margin: 8,
			color: '#000',
			fontSize: 14,
			fontFamily: fontName,
			formatter: function (v) { return v.toFixed(1); }
		},
		splitLine: {show: false}
	});
	lines.forEach(function (line) {
		series.push({
			type: 'line',
			xAxisIndex: i,
			yAxisIndex: i,
			data: line,
			symbol: 'none',
			silent: true,
			clip: true,
			lineStyle: {color: panelColors[i], width: 1.8, opacity: 0.6}
		});
	});
	// subplot title
	graphics.push({
		type: 'text',
		x: panelLeft[i] + panelWidth / 2,
		y: 49,
		style: {
			text: panelTitles[i],
			fill: '#000',
			font: '17px ' + fontName,
			textAlign: 'center',
			textVerticalAlign: 'middle',
			rich: {i: {fontStyle: 'italic', fontSize: 17, fontFamily: fontName, fill: '#000'}}
		}
	});
});

// figure title
graphics.push({
	type: 'text',
	x: 823,
	y: 19,
	style: {
		text: 'Buttons, 5-arms, Delta=0.2',
		fill: '#000',
		font: '20px ' + fontName,
		textAlign: 'center',
		textVerticalAlign: 'middle'
	}
});

option = {
	animation: false,
	backgroundColor: '#fff',
	grid: grids,
	xAxis: xAxes,
	yAxis: yAxes,
	series: series,
	graphic: graphics
};
myChart.setOption(option, true);
</script>
</body>
</html>
